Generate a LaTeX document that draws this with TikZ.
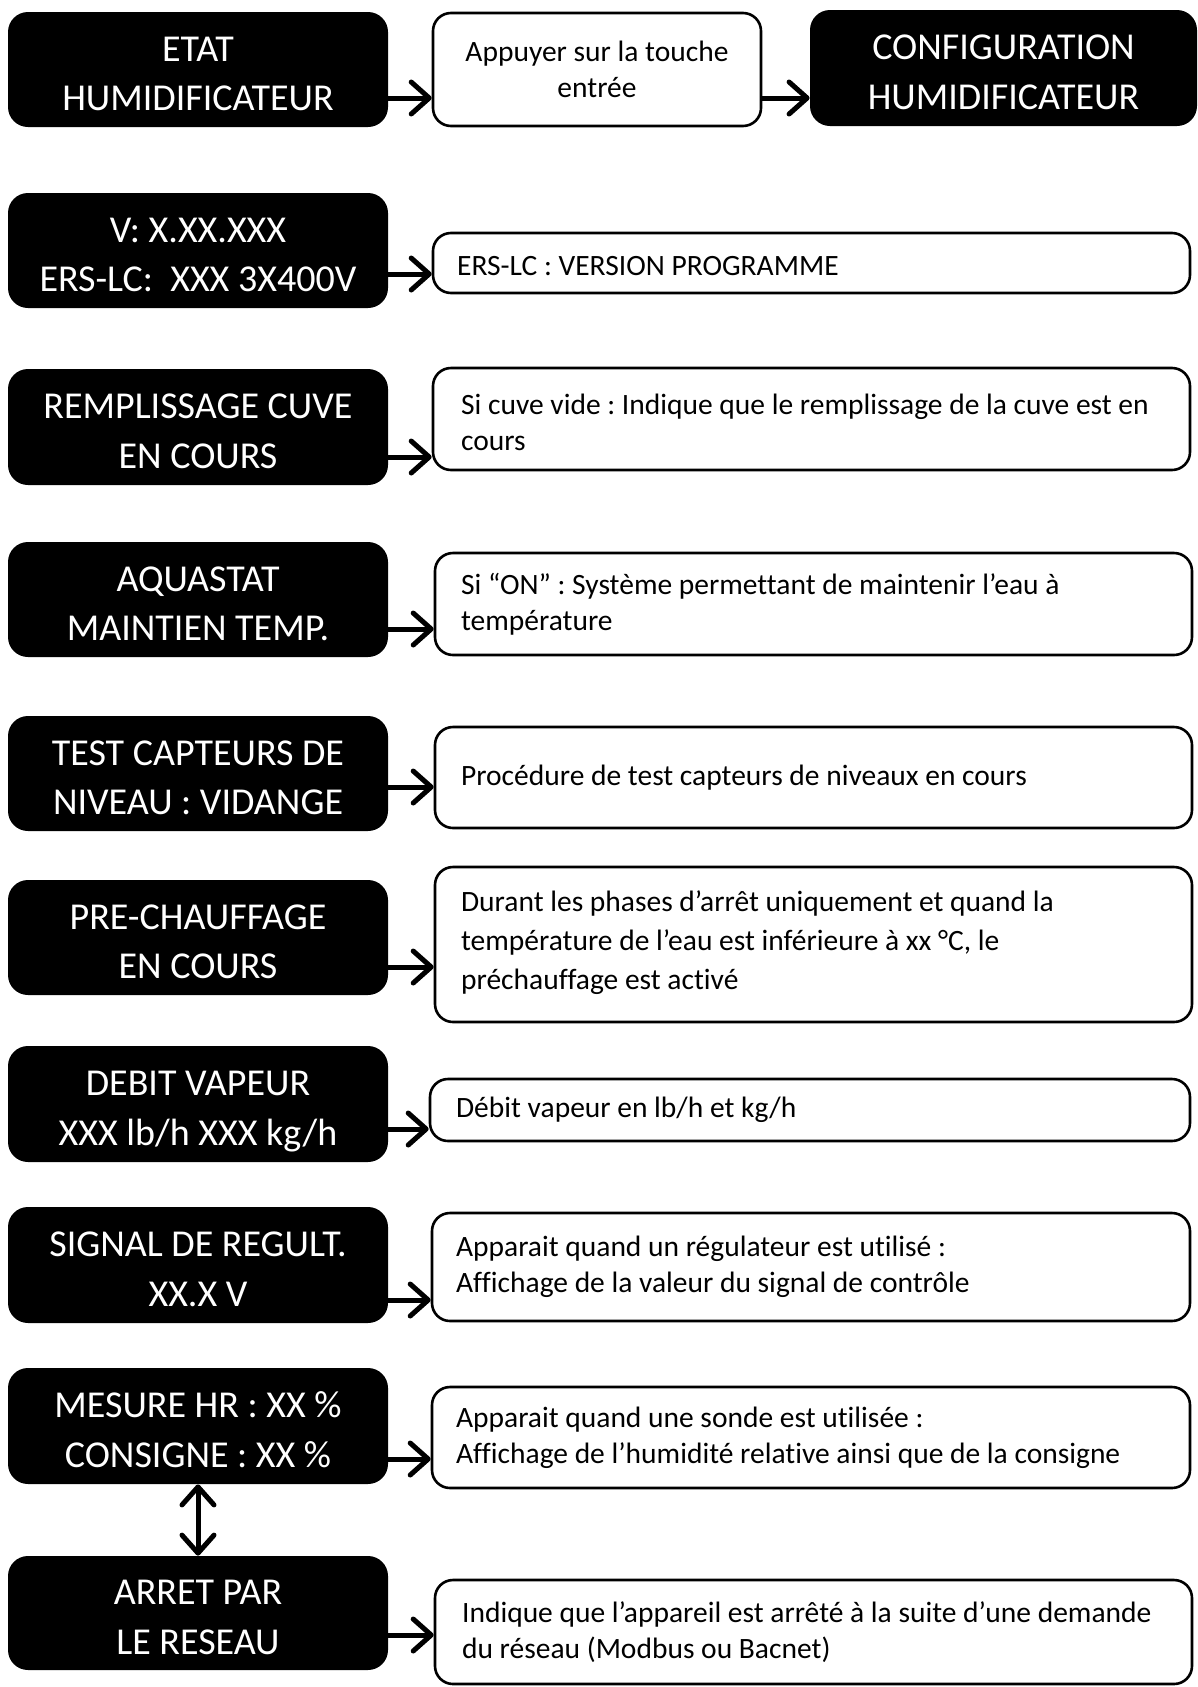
\documentclass[tikz,border=0pt]{standalone}
\usepackage{fontspec}
\setmainfont{Carlito}[Ligatures=NoCommon]
\usetikzlibrary{arrows.meta,calc}
\frenchspacing
\begin{document}
\begin{tikzpicture}[x=0.5pt,y=-0.5pt,
  blk/.style={fill=black, text=white, rounded corners=10pt, minimum width=190pt, minimum height=57.5pt, inner sep=0pt, align=center, font=\fontsize{19}{24.75}\selectfont, text height=41pt, text depth=0pt},
  wbox/.style={draw=black, line width=1.3pt, fill=white, rounded corners=9pt, inner sep=0pt, minimum width=378.5pt},
  wtxt/.style={anchor=west, align=left, inner sep=0pt, font=\fontsize{14.75}{18}\selectfont},
  tip/.tip={Straight Barb[length=9pt,width=16pt,round]},
  arr/.style={line width=2.5pt, -tip},
  darr/.style={line width=2.5pt, tip-tip}
]
\useasboundingbox (0,0) rectangle (1198,1687);

% black boxes
\node[blk] (b1) at (198,69.5) {ETAT\\HUMIDIFICATEUR};
\node[blk, minimum width=193.5pt, minimum height=58pt] (b1c) at (1003.5,68) {CONFIGURATION\\HUMIDIFICATEUR};
\node[blk] (b2) at (198,250.5) {V: X.XX.XXX\\ERS-LC:\ \ XXX 3X400V};
\node[blk, minimum height=58pt] (b3) at (198,427) {REMPLISSAGE CUVE\\EN COURS};
\node[blk] (b4) at (198,599.5) {AQUASTAT\\MAINTIEN TEMP.};
\node[blk] (b5) at (198,773.5) {TEST CAPTEURS DE\\NIVEAU : VIDANGE};
\node[blk] (b6) at (198,937.5) {PRE-CHAUFFAGE\\EN COURS};
\node[blk, minimum height=58pt] (b7) at (198,1104) {DEBIT VAPEUR\\XXX lb/h XXX kg/h};
\node[blk, minimum height=58pt] (b8) at (198,1265) {SIGNAL DE REGULT.\\XX.X V};
\node[blk, minimum height=58pt] (b9) at (198,1426) {MESURE HR : XX \%\\CONSIGNE : XX \%};
\node[blk, minimum height=57pt] (b10) at (198,1613) {ARRET PAR\\LE RESEAU};

% white boxes
\node[wbox, minimum width=164pt, minimum height=56.5pt, align=center, font=\fontsize{14.75}{17.75}\selectfont] (w1) at (597,69.5) {Appuyer sur la touche\\entrée};
\node[wbox, minimum height=30pt] (w2) at (811.5,263) {};
\node[wbox, minimum height=51pt] (w3) at (811.5,419) {};
\node[wbox, minimum height=51pt] (w4) at (813.5,604) {};
\node[wbox, minimum height=50.5pt] (w5) at (813.5,777.5) {};
\node[wbox, minimum height=77.5pt] (w6) at (813.5,944.5) {};
\node[wbox, minimum width=380pt, minimum height=31pt] (w7) at (810,1110) {};
\node[wbox, minimum width=379pt, minimum height=54pt] (w8) at (811,1267) {};
\node[wbox, minimum width=379pt, minimum height=50.5pt] (w9) at (811,1437.5) {};
\node[wbox, minimum height=52pt] (w10) at (813.5,1632) {};

% texts in white boxes
\node[wtxt] (t2) at ($(w2.west)+(25,3)$) {ERS-LC : VERSION PROGRAMME};
\node[wtxt] (t3) at ($(w3.west)+(29,3)$) {Si cuve vide : Indique que le remplissage de la cuve est en\\cours};
\node[wtxt] (t4) at ($(w4.west)+(27,0)$) {Si “ON” : Système permettant de maintenir l’eau à\\température};
\node[wtxt] (t5) at ($(w5.west)+(27,0)$) {Procédure de test capteurs de niveaux en cours};
\node[wtxt, font=\fontsize{14.75}{19.5}\selectfont] (t6) at ($(w6.west)+(27,-2)$) {Durant les phases d’arrêt uniquement et quand la\\température de l’eau est inférieure à xx °C, le\\préchauffage est activé};
\node[wtxt] (t7) at ($(w7.west)+(27,0)$) {Débit vapeur en lb/h et kg/h};
\node[wtxt] (t8) at ($(w8.west)+(25,0)$) {Apparait quand un régulateur est utilisé :\\Affichage de la valeur du signal de contrôle};
\node[wtxt] (t9) at ($(w9.west)+(25,0)$) {Apparait quand une sonde est utilisée :\\Affichage de l’humidité relative ainsi que de la consigne};
\node[wtxt] (t10) at ($(w10.west)+(28,0)$) {Indique que l’appareil est arrêté à la suite d’une demande\\du réseau (Modbus ou Bacnet)};

% arrows
\draw[arr] ($(b1.east)+(0,28.5)$) -- ($(w1.west)+(0,28.5)$);
\draw[arr] ($(w1.east)+(0,28.5)$) -- ($(b1c.west)+(0,30)$);
\draw[arr] ($(b2.east)+(0,23.5)$) -- ($(w2.west)+(0,11)$);
\draw[arr] ($(b3.east)+(0,30)$) -- ($(w3.west)+(0,38)$);
\draw[arr] ($(b4.east)+(0,29.5)$) -- ($(w4.west)+(0,25)$);
\draw[arr] ($(b5.east)+(0,13.5)$) -- ($(w5.west)+(0,9.5)$);
\draw[arr] ($(b6.east)+(0,29.5)$) -- ($(w6.west)+(0,22.5)$);
\draw[arr] ($(b7.east)+(0,25)$) -- ($(w7.west)+(0,19)$);
\draw[arr] ($(b8.east)+(0,35)$) -- ($(w8.west)+(0,33)$);
\draw[arr] ($(b9.east)+(0,33)$) -- ($(w9.west)+(0,21.5)$);
\draw[arr] ($(b10.east)+(0,22)$) -- ($(w10.west)+(0,3)$);
\draw[darr] (b9.south) -- (b10.north);
\end{tikzpicture}
\end{document}
